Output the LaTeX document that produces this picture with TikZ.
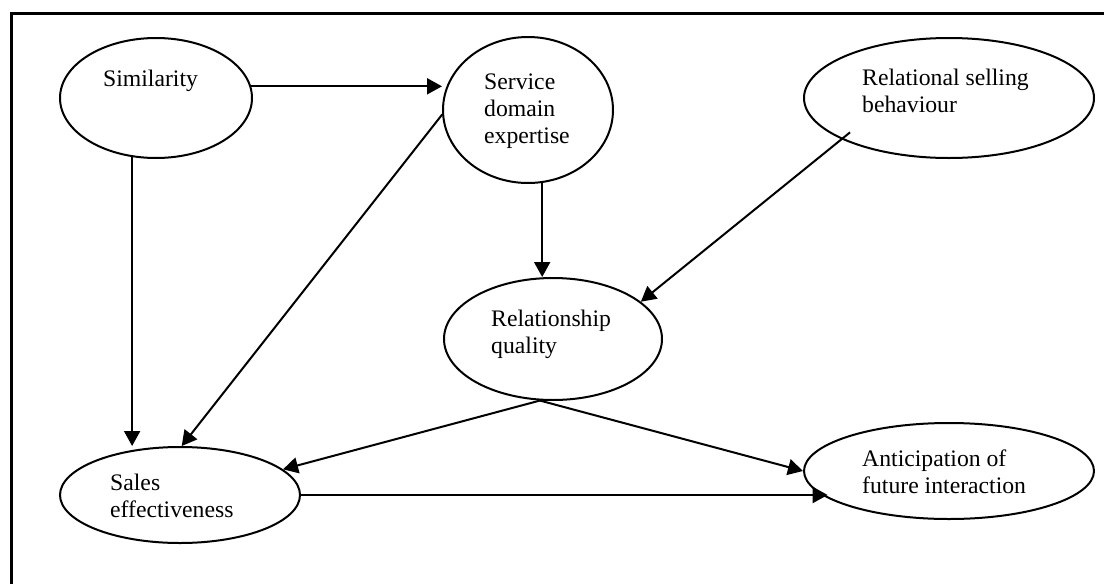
\documentclass[tikz,border=0pt]{standalone}
\usepackage{fontspec}
\setmainfont{Liberation Serif}
\usetikzlibrary{shapes.geometric, arrows.meta, positioning}

\tikzset{
    factor/.style={draw, ellipse, line width=2pt, inner sep=0pt},
    factortext/.style={anchor=base west, align=left, inner sep=0pt,
        font=\fontsize{23.7}{26.8}\selectfont},
    arr/.style={-{Triangle[length=15pt,width=16pt]}, line width=2pt},
}

\begin{document}
\begin{tikzpicture}[x=1pt,y=-1pt]
\useasboundingbox (0,0) rectangle (1104,584);

% Frame (open at the right and the bottom)
\draw[line width=3pt] (11,584) -- (11,13) -- (1104,13);

% Factors
\node[factor, minimum width=192pt, minimum height=120pt] (sim) at (156,98) {};
\node[factor, minimum width=170pt, minimum height=146pt] (sde) at (528,110) {};
\node[factor, minimum width=290pt, minimum height=120pt] (rsb) at (949,98) {};
\node[factor, minimum width=218pt, minimum height=122pt] (rq) at (553,339) {};
\node[factor, minimum width=240pt, minimum height=96pt] (sales) at (180,495) {};
\node[factor, minimum width=290pt, minimum height=96pt] (ant) at (949,471) {};

% Labels of the factors (placed at the baseline of the last line)
\node[factortext] (simtxt) at (103,86) {Similarity};
\node[factortext] (sdetxt) at (484,143) {Service\\domain\\expertise};
\node[factortext] (rsbtxt) at (862,112) {Relational selling\\behaviour};
\node[factortext] (rqtxt) at (491,353) {Relationship\\quality};
\node[factortext] (salestxt) at (110,517) {Sales\\effectiveness};
\node[factortext] (anttxt) at (862,493) {Anticipation of\\future interaction};

% Paths
\draw[arr] (sim.7) -- (sim.7 -| sde.west);
\draw[arr] (sim.-112) -- (sim.-112 |- sales.north);
\draw[arr] (sde.183) -- (sales.88);
\draw[arr] (sde.-79) -- (sde.-79 |- rq.north);
\draw[arr, shorten <=-11pt] (rsb.201) -- (rq.23);
\draw[arr] (rq.-102) -- (sales.14);
\draw[arr] (rq.-102) -- (ant.west);
\draw[arr, shorten >=-5pt] (sales.east) -- (sales.east -| ant.-169);

\end{tikzpicture}
\end{document}
